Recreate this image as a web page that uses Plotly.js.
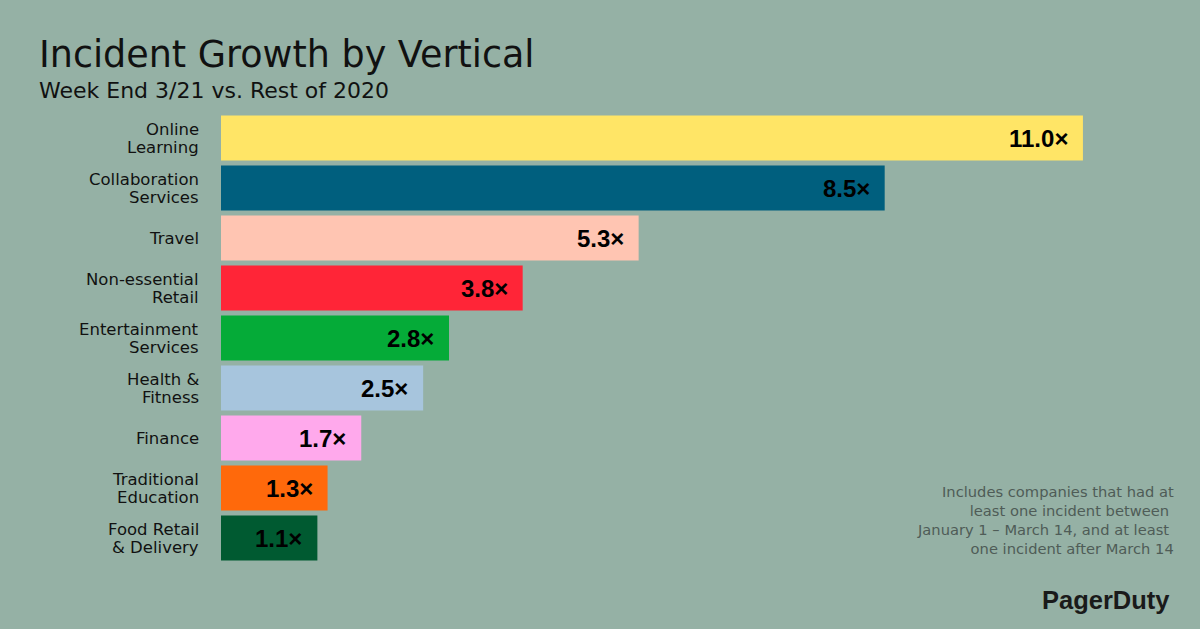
<!DOCTYPE html>
<html>
<head>
<meta charset="utf-8">
<script src="https://cdn.plot.ly/plotly-3.0.1.min.js"></script>
<style>html,body{margin:0;padding:0;background:#95B1A5;}</style>
</head>
<body>
<div id="chart" style="width:1200px;height:629px;"></div>
<script>
// Categories (two-line labels split by <br>)
const categories = ["Online<br>Learning", "Collaboration<br>Services", "Travel", "Non-essential<br>Retail", "Entertainment<br>Services", "Health &amp;<br>Fitness", "Finance", "Traditional<br>Education", "Food Retail<br>&amp; Delivery"];
// Bar lengths
const barValues = [11.0, 8.47, 5.33, 3.85, 2.91, 2.58, 1.79, 1.36, 1.23];
// Printed value labels
const valueLabels = ["11.0×", "8.5×", "5.3×", "3.8×", "2.8×", "2.5×", "1.7×", "1.3×", "1.1×"];
const barColors = ["#FFE566", "#005F7E", "#FFC5B2", "#FF2537", "#05AB38", "#A7C5DD", "#FFA9EC", "#FF690B", "#005A31"];

const bg = "#95B1A5";
const sans = "DejaVu Sans, Verdana, sans-serif";
const bold = "Liberation Sans, Arial, sans-serif";

const trace = {
  type: "bar",
  orientation: "h",
  x: barValues,
  y: categories,
  marker: {color: barColors, line: {width: 0}},
  hoverinfo: "skip"
};

const annotations = [];
barValues.forEach((v, i) => {
  annotations.push({
    x: v, y: categories[i], xref: "x", yref: "y",
    text: "<b>" + valueLabels[i] + "</b>",
    xanchor: "right", yanchor: "middle", xshift: -13,
    showarrow: false,
    font: {family: bold, size: 24, color: "#000000"}
  });
  const lines = categories[i].split("<br>");
  lines.forEach((ln, j) => {
    const off = lines.length === 1 ? 0 : (j === 0 ? 9 : -9);
    annotations.push({
      x: 0, y: categories[i], xref: "paper", yref: "y",
      text: ln, xanchor: "right", yanchor: "middle", xshift: -20, yshift: off,
      showarrow: false,
      font: {family: sans, size: 16.5, color: "#111111"}
    });
  });
});

annotations.push(
  {xref: "paper", yref: "paper", x: -0.188, y: 1.13, xanchor: "left", yanchor: "middle",
   text: "Incident Growth by Vertical", showarrow: false,
   font: {family: sans, size: 36.5, color: "#111111"}},
  {xref: "paper", yref: "paper", x: -0.188, y: 1.051, xanchor: "left", yanchor: "middle",
   text: "Week End 3/21 vs. Rest of 2020", showarrow: false,
   font: {family: sans, size: 22, color: "#111111"}},
  {xref: "paper", yref: "paper", x: 0.9755, y: 0.0956, xanchor: "right", yanchor: "middle", align: "right",
   text: "Includes companies that had at<br>least one incident between <br>January 1 – March 14, and at least <br>one incident after March 14",
   showarrow: false, font: {family: sans, size: 14.7, color: "#4F5C57"}},
  {xref: "paper", yref: "paper", x: 0.9715, y: -0.082, xanchor: "right", yanchor: "middle",
   text: "<b>PagerDuty</b>", showarrow: false,
   font: {family: bold, size: 25.5, color: "#1A1A1A"}}
);

const layout = {
  width: 1200, height: 629,
  paper_bgcolor: bg, plot_bgcolor: bg,
  margin: {l: 221, r: 0, t: 113, b: 66},
  showlegend: false,
  bargap: 0.1,
  xaxis: {range: [0, 12.494], showgrid: false, zeroline: false, showticklabels: false, showline: false, fixedrange: true},
  yaxis: {type: "category", autorange: "reversed", showgrid: false, zeroline: false, showline: false,
          ticks: "", showticklabels: false},
  annotations: annotations
};

Plotly.newPlot("chart", [trace], layout, {displayModeBar: false, staticPlot: true});
</script>
</body>
</html>
